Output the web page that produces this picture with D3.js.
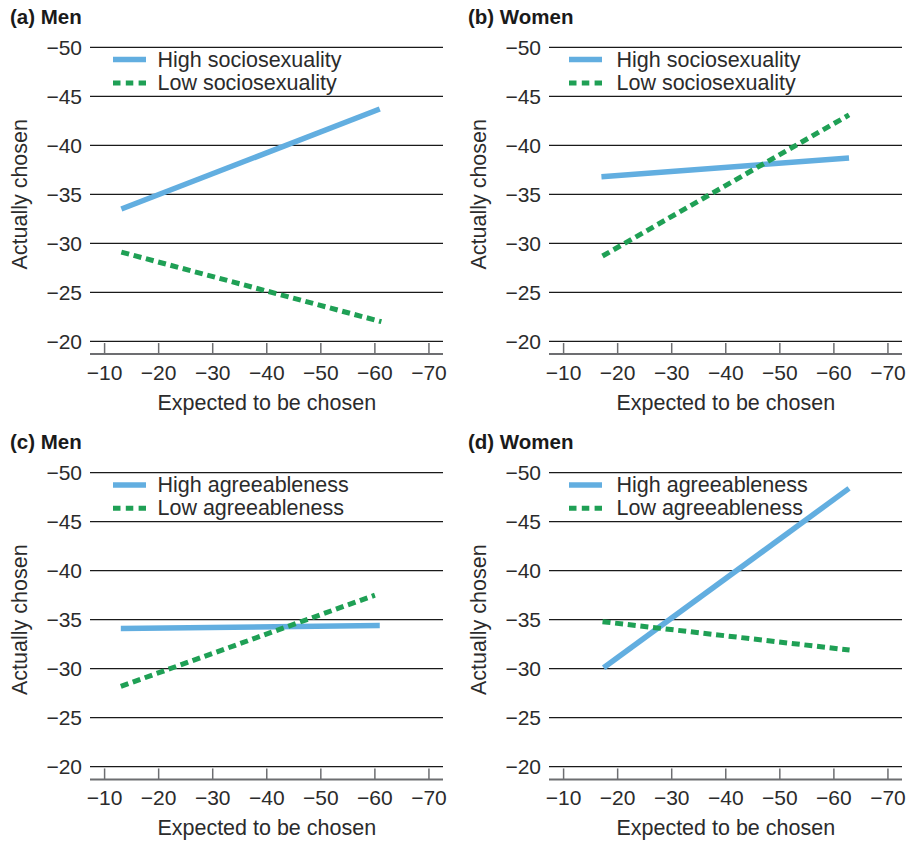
<!DOCTYPE html>
<html>
<head>
<meta charset="utf-8">
<script src="https://cdn.jsdelivr.net/npm/d3@7"></script>
<style>
  body { margin: 0; background: #fff; }
  svg { display: block; font-family: "Liberation Sans", Arial, Helvetica, sans-serif; }
  .grid line { stroke: #1a1a1a; stroke-width: 1.2; }
  .tick-label { fill: #2b2b2b; font-size: 21px; }
  .axis-title { fill: #2b2b2b; font-size: 21.5px; }
  .panel-title { fill: #1a1a1a; font-size: 20.5px; font-weight: bold; }
  .legend-text { fill: #2b2b2b; font-size: 21.5px; }
</style>
</head>
<body>
<svg id="chart" width="906" height="842"></svg>
<script>
// values
const panelTitles = ['(a) Men', '(b) Women', '(c) Men', '(d) Women'];
const highLabels = ['High sociosexuality', 'High sociosexuality', 'High agreeableness', 'High agreeableness'];
const lowLabels = ['Low sociosexuality', 'Low sociosexuality', 'Low agreeableness', 'Low agreeableness'];
const xTicks = [-10, -20, -30, -40, -50, -60, -70];
const yTicks = [-50, -45, -40, -35, -30, -25, -20];

// each line is two points: [expected, actually]
const highSeries = [
    [[-13.1, -33.5], [-60.9, -43.7]],
    [[-17.0, -36.8], [-62.8, -38.7]],
    [[-13.0, -34.1], [-60.9, -34.4]],
    [[-17.4, -30.1], [-62.8, -48.4]]
];
const lowSeries = [
    [[-13.1, -29.1], [-61.2, -22.0]],
    [[-17.2, -28.7], [-62.8, -43.1]],
    [[-13.0, -28.2], [-60.0, -37.5]],
    [[-17.2, -34.8], [-62.9, -31.9]]
];

const blue = '#62aee0';
const green = '#1fa055';

const svg = d3.select('#chart');
const plotW = 353, plotH = 294;   // -50 .. -20 gridline span
const origins = [[90, 47.3], [549, 47.3], [90, 472.7], [549, 472.7]];

const x = d3.scaleLinear().domain([-7.3, -72.6]).range([0, plotW]);
const y = d3.scaleLinear().domain([-50, -20]).range([0, plotH]);
const axisY = y(-18.7);

const line = d3.line().x(d => x(d[0])).y(d => y(d[1]));

origins.forEach(([ox, oy], i) => {
    const g = svg.append('g').attr('transform', `translate(${ox},${oy})`);

    // title
    g.append('text').attr('class', 'panel-title')
        .attr('x', i % 2 ? -81 : -80).attr('y', -31)
        .attr('dominant-baseline', 'central')
        .text(panelTitles[i]);

    // horizontal gridlines + y labels (no y axis line)
    const grid = g.append('g').attr('class', 'grid');
    grid.selectAll('line').data(yTicks).join('line')
        .attr('x1', 0).attr('x2', plotW)
        .attr('y1', d => y(d)).attr('y2', d => y(d));
    g.selectAll('.ylab').data(yTicks).join('text')
        .attr('class', 'tick-label ylab')
        .attr('x', -8).attr('y', d => y(d))
        .attr('text-anchor', 'end').attr('dominant-baseline', 'central')
        .text(d => '\u2212' + Math.abs(d));

    // bottom axis: grey line, ticks pointing up
    g.append('line').attr('x1', 0).attr('x2', plotW)
        .attr('y1', axisY).attr('y2', axisY)
        .attr('stroke', '#6d6e71').attr('stroke-width', 2);
    g.selectAll('.xtick').data(xTicks).join('line')
        .attr('class', 'xtick')
        .attr('x1', d => x(d)).attr('x2', d => x(d))
        .attr('y1', axisY).attr('y2', axisY - 11)
        .attr('stroke', '#6d6e71').attr('stroke-width', 1.5);
    g.selectAll('.xlab').data(xTicks).join('text')
        .attr('class', 'tick-label xlab')
        .attr('x', d => x(d)).attr('y', axisY + 18.5)
        .attr('text-anchor', 'middle').attr('dominant-baseline', 'central')
        .text(d => '\u2212' + Math.abs(d));

    g.append('text').attr('class', 'axis-title')
        .attr('x', (x(-10) + x(-70)) / 2).attr('y', axisY + 49)
        .attr('text-anchor', 'middle').attr('dominant-baseline', 'central')
        .text('Expected to be chosen');
    g.append('text').attr('class', 'axis-title')
        .attr('transform', `translate(-70,${plotH / 2}) rotate(-90)`)
        .attr('text-anchor', 'middle').attr('dominant-baseline', 'central')
        .text('Actually chosen');

    // the two lines
    g.append('path').attr('d', line(highSeries[i]))
        .attr('fill', 'none').attr('stroke', blue).attr('stroke-width', 5.5);
    g.append('path').attr('d', line(lowSeries[i]))
        .attr('fill', 'none').attr('stroke', green).attr('stroke-width', 5)
        .attr('stroke-dasharray', '8,4.7');

    // legend
    const lx0 = i % 2 ? 20 : 23;
    const legend = [
        {label: highLabels[i], color: blue, dash: null, ly: 12.3, w: 5.5},
        {label: lowLabels[i], color: green, dash: '7.5,5.3', ly: 35.6, w: 5}
    ];
    legend.forEach(l => {
        g.append('line').attr('x1', lx0).attr('x2', lx0 + 33)
            .attr('y1', l.ly).attr('y2', l.ly)
            .attr('stroke', l.color).attr('stroke-width', l.w)
            .attr('stroke-dasharray', l.dash);
        g.append('text').attr('class', 'legend-text')
            .attr('x', 67.5).attr('y', l.ly)
            .attr('dominant-baseline', 'central')
            .text(l.label);
    });
});
</script>
</body>
</html>
